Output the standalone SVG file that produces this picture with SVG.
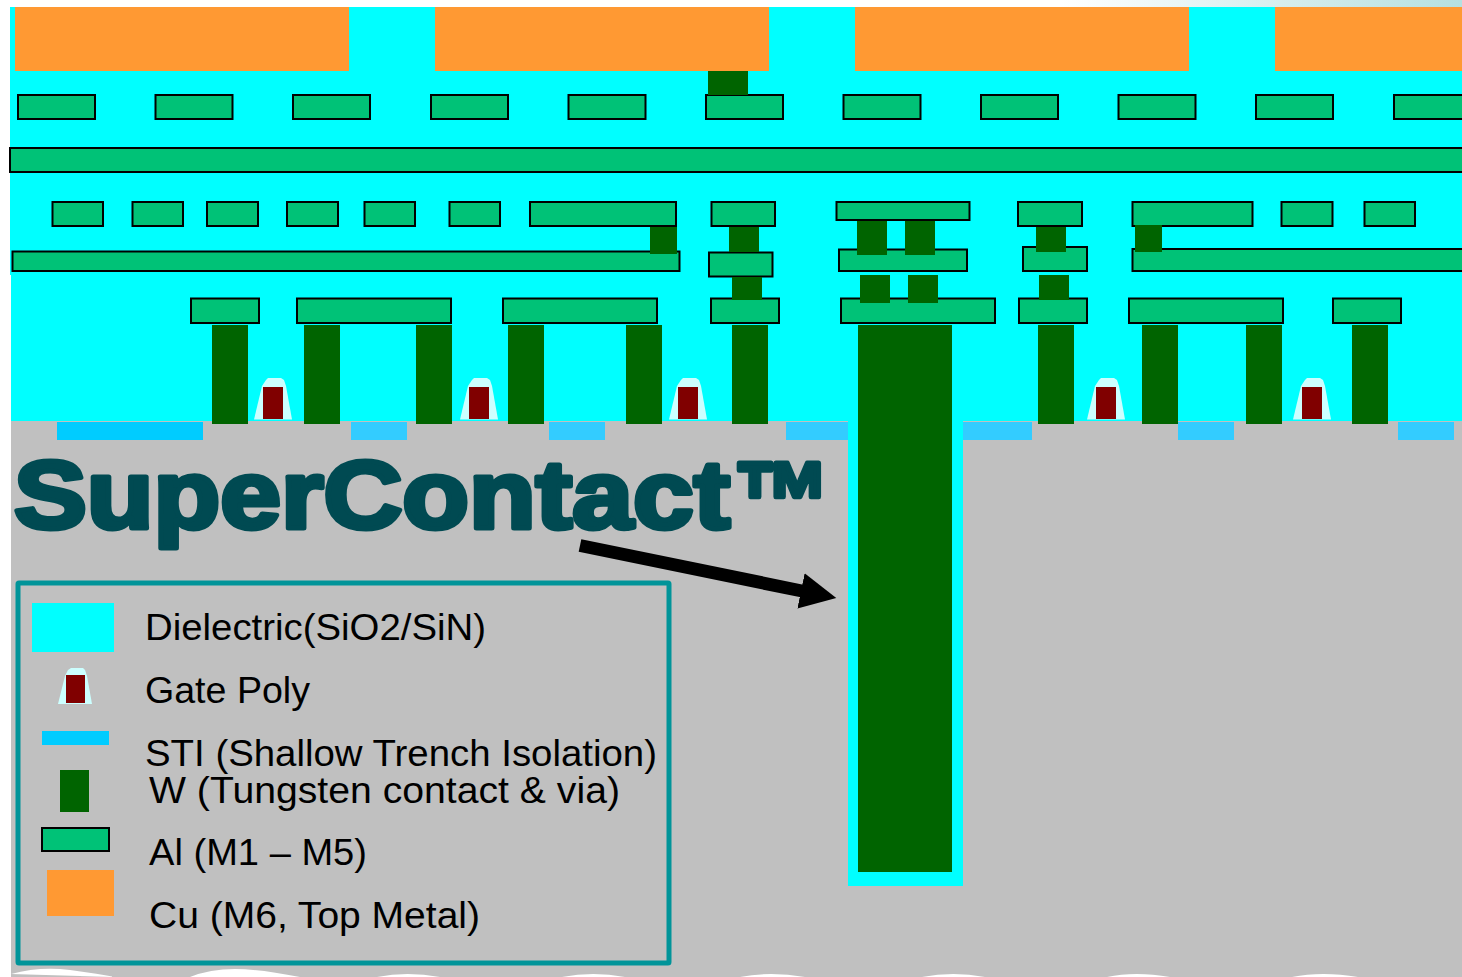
<svg xmlns="http://www.w3.org/2000/svg" width="1462" height="977" viewBox="0 0 1462 977">
<style>
.diel{fill:#00ffff}
.cu{fill:#ff9933}
.al{fill:#00c277;stroke:#000;stroke-width:2}
.w{fill:#006400}
.sti{fill:#33ccff}
.sti0{fill:#00ccff}
.spacer{fill:#ccffff}
.poly{fill:#800000}
.lg{font-family:"Liberation Sans",Arial,sans-serif;font-size:36px;fill:#000}
.title{font-family:"Liberation Sans",Arial,sans-serif;font-weight:700;font-size:96px;fill:#004a52;stroke:#004a52;stroke-width:5;stroke-linejoin:round}
</style>
<defs>
<linearGradient id="strip" x1="0" y1="0" x2="1" y2="0"><stop offset="0" stop-color="#ffffff"/><stop offset="1" stop-color="#b5e0e0"/></linearGradient>
<g id="gate">
<polygon class="spacer" points="254,419.5 262,386 266,380 268,378 281,378 284,380 286,386 292,419.5"/>
<rect class="poly" x="263" y="387" width="20" height="32"/>
</g>
<marker id="head" markerUnits="userSpaceOnUse" markerWidth="38" markerHeight="38" refX="1" refY="19" orient="auto" viewBox="0 0 38 38"><path d="M0,1 L36,19 L0,37 Z" fill="#000"/></marker>
</defs>
<rect width="1462" height="977" fill="#fff"/>
<rect x="1060" y="0" width="402" height="7" fill="url(#strip)"/>
<g id="substrate">
<rect x="11" y="421" width="1451" height="556" fill="#c0c0c0"/>
<path fill="#fff" d="M11,974 Q40,966 70,970 T115,977 Z M190,977 Q210,969 235,969 T300,977 Z M377,977 Q407,971 440,977 Z M562,977 Q593,971 625,977 Z M740,977 Q770,971 805,977 Z M922,977 Q953,971 985,977 Z M1107,977 Q1135,971 1170,977 Z M1292,977 Q1322,971 1358,977 Z"/>
</g>
<g id="dielectric">
<rect class="diel" x="10" y="7" width="1452" height="268"/>
<rect class="diel" x="11" y="275" width="1451" height="146"/>
<rect class="diel" x="848" y="421" width="115" height="465"/>
</g>
<g id="sti">
<rect class="sti0" x="57" y="422" width="146" height="18"/>
<rect class="sti" x="351" y="422" width="56" height="18"/>
<rect class="sti" x="549" y="422" width="56" height="18"/>
<rect class="sti" x="786" y="422" width="62" height="18"/>
<rect class="sti" x="963" y="422" width="69" height="18"/>
<rect class="sti" x="1178" y="422" width="56" height="18"/>
<rect class="sti" x="1398" y="422" width="56" height="18"/>
</g>
<g id="top-metal">
<rect class="cu" x="15" y="7" width="334" height="64"/>
<rect class="cu" x="435" y="7" width="334" height="64"/>
<rect class="cu" x="855" y="7" width="334" height="64"/>
<rect class="cu" x="1275" y="7" width="187" height="64"/>
</g>
<g id="m5">
<rect class="al" x="18" y="95" width="77" height="24"/>
<rect class="al" x="155.500" y="95" width="77" height="24"/>
<rect class="al" x="293" y="95" width="77" height="24"/>
<rect class="al" x="431" y="95" width="77" height="24"/>
<rect class="al" x="568.500" y="95" width="77" height="24"/>
<rect class="al" x="706" y="95" width="77" height="24"/>
<rect class="al" x="843.500" y="95" width="77" height="24"/>
<rect class="al" x="981" y="95" width="77" height="24"/>
<rect class="al" x="1118.500" y="95" width="77" height="24"/>
<rect class="al" x="1256" y="95" width="77" height="24"/>
<rect class="al" x="1394" y="95" width="70" height="24"/>
</g>
<g id="m4"><rect class="al" x="10" y="148" width="1456" height="24"/></g>
<g id="m3">
<rect class="al" x="52.500" y="202" width="50.500" height="24"/>
<rect class="al" x="132.500" y="202" width="50.500" height="24"/>
<rect class="al" x="207" y="202" width="51" height="24"/>
<rect class="al" x="287" y="202" width="51" height="24"/>
<rect class="al" x="364.500" y="202" width="50.500" height="24"/>
<rect class="al" x="449.500" y="202" width="50.500" height="24"/>
<rect class="al" x="530" y="202" width="146" height="24"/>
<rect class="al" x="711.500" y="202" width="63.500" height="24"/>
<rect class="al" x="836.500" y="202" width="133" height="18"/>
<rect class="al" x="1018" y="202" width="64" height="24"/>
<rect class="al" x="1132.500" y="202" width="120" height="24"/>
<rect class="al" x="1281.500" y="202" width="51" height="24"/>
<rect class="al" x="1364.500" y="202" width="50.500" height="24"/>
</g>
<g id="m2">
<rect class="al" x="12.500" y="251.500" width="667" height="19.500"/>
<rect class="al" x="709" y="252.500" width="63.500" height="24"/>
<rect class="al" x="839" y="249.500" width="128" height="21.500"/>
<rect class="al" x="1023" y="247" width="64" height="24"/>
<rect class="al" x="1132.500" y="249" width="333" height="22"/>
</g>
<g id="m1">
<rect class="al" x="191" y="298.500" width="68" height="24.500"/>
<rect class="al" x="297" y="298.500" width="154" height="24.500"/>
<rect class="al" x="503" y="298.500" width="154" height="24.500"/>
<rect class="al" x="711" y="298.500" width="68" height="24.500"/>
<rect class="al" x="841" y="298.500" width="154" height="24.500"/>
<rect class="al" x="1019" y="298.500" width="68" height="24.500"/>
<rect class="al" x="1129" y="298.500" width="154" height="24.500"/>
<rect class="al" x="1333" y="298.500" width="68" height="24.500"/>
</g>
<g id="vias">
<rect class="w" x="708" y="71" width="40" height="24"/>
<rect class="w" x="650" y="227" width="27" height="27"/>
<rect class="w" x="729" y="227" width="30" height="25"/>
<rect class="w" x="857" y="221" width="30" height="34"/>
<rect class="w" x="905" y="221" width="30" height="34"/>
<rect class="w" x="1036" y="227" width="30" height="25"/>
<rect class="w" x="1135" y="225" width="27" height="27"/>
<rect class="w" x="732" y="277" width="30" height="23"/>
<rect class="w" x="860" y="275" width="30" height="28"/>
<rect class="w" x="908" y="275" width="30" height="28"/>
<rect class="w" x="1039" y="275" width="30" height="25"/>
</g>
<g id="contacts">
<rect class="w" x="212" y="325" width="36" height="99"/>
<rect class="w" x="304" y="325" width="36" height="99"/>
<rect class="w" x="416" y="325" width="36" height="99"/>
<rect class="w" x="508" y="325" width="36" height="99"/>
<rect class="w" x="626" y="325" width="36" height="99"/>
<rect class="w" x="732" y="325" width="36" height="99"/>
<rect class="w" x="1038" y="325" width="36" height="99"/>
<rect class="w" x="1142" y="325" width="36" height="99"/>
<rect class="w" x="1246" y="325" width="36" height="99"/>
<rect class="w" x="1352" y="325" width="36" height="99"/>
</g>
<g id="supercontact"><rect class="w" x="858" y="325" width="94" height="547"/></g>
<g id="gates">
<use href="#gate"/>
<use href="#gate" x="206"/>
<use href="#gate" x="415"/>
<use href="#gate" x="833"/>
<use href="#gate" x="1039"/>
</g>
<g id="title"><text class="title" x="14" y="528"><tspan textLength="716" lengthAdjust="spacingAndGlyphs">SuperContact</tspan><tspan x="733" y="537" font-size="108" textLength="98" lengthAdjust="spacingAndGlyphs">™</tspan></text></g>
<g id="connectors"><line x1="580" y1="545.500" x2="802" y2="591" stroke="#000" stroke-width="13" marker-end="url(#head)"/></g>
<g id="legend">
<rect x="18" y="583" width="651" height="380" rx="1" fill="none" stroke="#009499" stroke-width="5"/>
<rect class="diel" x="32" y="603" width="82" height="49"/>
<polygon class="spacer" points="58,704 65,676 68,670 71,668 83,668 85,670 87,676 92,704"/>
<rect class="poly" x="66" y="675" width="19" height="28"/>
<rect class="sti0" x="42" y="731" width="67" height="14"/>
<rect class="w" x="60" y="770" width="29" height="42"/>
<rect class="al" x="42" y="828" width="67" height="23"/>
<rect class="cu" x="47" y="870" width="67" height="46"/>
<text class="lg" x="145" y="640" textLength="341" lengthAdjust="spacingAndGlyphs">Dielectric(SiO2/SiN)</text>
<text class="lg" x="145" y="703" textLength="165" lengthAdjust="spacingAndGlyphs">Gate Poly</text>
<text class="lg" x="145" y="766" textLength="512" lengthAdjust="spacingAndGlyphs">STI (Shallow Trench Isolation)</text>
<text class="lg" x="149" y="803" textLength="471" lengthAdjust="spacingAndGlyphs">W (Tungsten contact &amp; via)</text>
<text class="lg" x="149" y="865" textLength="218" lengthAdjust="spacingAndGlyphs">Al (M1 – M5)</text>
<text class="lg" x="149" y="928" textLength="331" lengthAdjust="spacingAndGlyphs">Cu (M6, Top Metal)</text>
</g>
</svg>
